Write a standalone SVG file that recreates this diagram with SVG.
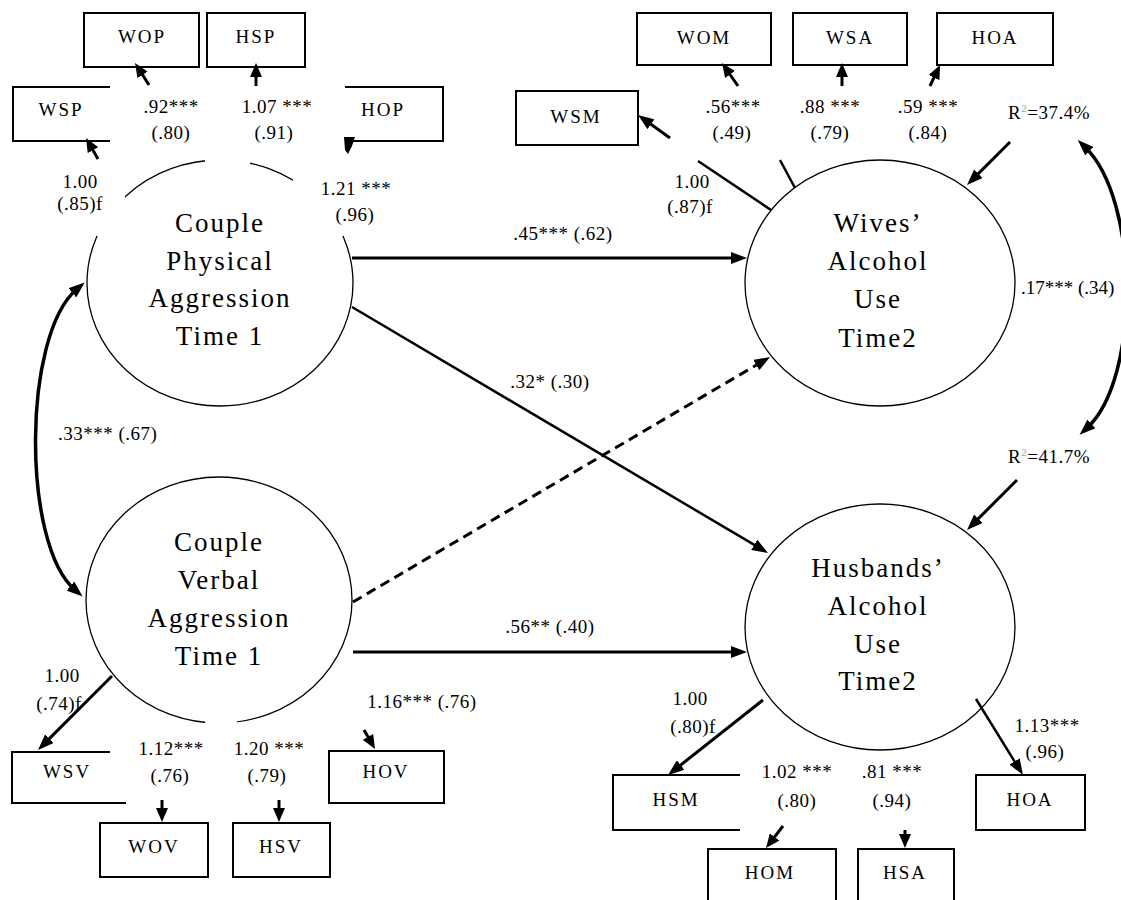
<svg xmlns="http://www.w3.org/2000/svg" width="1121" height="900" viewBox="0 0 1121 900" font-family="'Liberation Serif', serif">
  <defs>
    <style>
      .bg { fill: #ffffff; }
      .latent { fill: none; stroke: #000; stroke-width: 1.3; }
      .box { fill: none; stroke: #000; stroke-width: 2; }
      .ltxt { font-family: "Liberation Serif", serif; font-size: 27px; letter-spacing: 2px; text-anchor: middle; fill: #000; }
      .btxt { font-family: "Liberation Serif", serif; font-size: 19px; letter-spacing: 2px; text-anchor: middle; fill: #000; }
      .num { font-family: "Liberation Serif", serif; font-size: 19px; letter-spacing: 0.5px; text-anchor: middle; fill: #000; }
      .num-l { font-family: "Liberation Serif", serif; font-size: 19px; letter-spacing: 0.5px; text-anchor: start; fill: #000; }
      .tight { letter-spacing: 0; }
      .mask { fill: #ffffff; stroke: none; }
      .path3 { fill: none; stroke: #000; stroke-width: 3; marker-end: url(#ah); }
      .path25 { fill: none; stroke: #000; stroke-width: 2.5; marker-end: url(#ah); }
      .dash { fill: none; stroke: #000; stroke-width: 3; stroke-dasharray: 10 6; marker-end: url(#ah); }
      .small { fill: none; stroke: #000; stroke-width: 3; marker-end: url(#ahs); }
      .stub { fill: none; stroke: #000; stroke-width: 2.5; }
      .cov { fill: none; stroke: #000; stroke-width: 3.5; marker-start: url(#ah); marker-end: url(#ah); }
      .sup { font-size: 11px; fill: #9aa4b0; }
    </style>
    <!-- filled arrowhead; tip sits 10px beyond the line end -->
    <marker id="ah" viewBox="0 0 16 12" refX="6" refY="6" markerWidth="16" markerHeight="12" markerUnits="userSpaceOnUse" orient="auto-start-reverse">
      <path d="M0,0 L16,6 L0,12 z" fill="#000"/>
    </marker>
    <!-- smaller head for the short indicator arrows -->
    <marker id="ahs" viewBox="0 0 14 12" refX="6" refY="6" markerWidth="14" markerHeight="12" markerUnits="userSpaceOnUse" orient="auto">
      <path d="M0,0 L14,6 L0,12 z" fill="#000"/>
    </marker>
  </defs>

  <rect class="bg" x="0" y="0" width="1121" height="900"/>

  <!-- latent factors -->
  <g id="node-physical-t1">
    <ellipse class="latent" cx="220" cy="283" rx="133" ry="123"/>
    <text class="ltxt" x="220" y="232">Couple</text>
    <text class="ltxt" x="220" y="270">Physical</text>
    <text class="ltxt" x="220" y="307">Aggression</text>
    <text class="ltxt" x="220" y="345">Time 1</text>
  </g>
  <g id="node-verbal-t1">
    <ellipse class="latent" cx="219" cy="600" rx="133" ry="123"/>
    <text class="ltxt" x="219" y="551">Couple</text>
    <text class="ltxt" x="219" y="589">Verbal</text>
    <text class="ltxt" x="219" y="627">Aggression</text>
    <text class="ltxt" x="219" y="665">Time 1</text>
  </g>
  <g id="node-wives-t2">
    <ellipse class="latent" cx="880" cy="283" rx="135" ry="123"/>
    <text class="ltxt" x="878" y="232">Wives’</text>
    <text class="ltxt" x="878" y="270">Alcohol</text>
    <text class="ltxt" x="878" y="308">Use</text>
    <text class="ltxt" x="878" y="347">Time2</text>
  </g>
  <g id="node-husbands-t2">
    <ellipse class="latent" cx="880" cy="627" rx="135" ry="123"/>
    <text class="ltxt" x="878" y="577">Husbands’</text>
    <text class="ltxt" x="878" y="615">Alcohol</text>
    <text class="ltxt" x="878" y="653">Use</text>
    <text class="ltxt" x="878" y="690">Time2</text>
  </g>

  <!-- white label backgrounds that break the factor outlines -->
  <g id="label-backgrounds">
    <rect class="mask" x="205" y="150" width="45" height="20"/>
    <rect class="mask" x="40" y="170" width="85" height="66"/>
    <rect class="mask" x="293" y="170" width="105" height="66"/>
    <rect class="mask" x="205" y="712" width="32" height="16"/>
  </g>

  <g id="connectors">
    <!-- structural paths -->
    <path class="path3" d="M352,258 L737,258"/>
    <path class="path25" d="M352,307 L759.4,547.9"/>
    <path class="dash" d="M353,602 L761.4,362.1"/>
    <path class="path3" d="M353,652 L737,652"/>
    <!-- covariances -->
    <path class="cov" d="M77,289 C22,335 22,545 75,590"/>
    <path class="cov" d="M1085,147 C1140,200 1140,380 1087,428"/>
    <!-- residual arrows -->
    <path class="path3" d="M1010,142 L974.1,177.9"/>
    <path class="path3" d="M1017,480 L974.1,522.9"/>
    <!-- factor loadings: physical aggression -->
    <path class="small" d="M149,85 L139.3,69.8"/>
    <path class="small" d="M256,86 L256,71"/>
    <path class="small" d="M98,159 L90,144.9"/>
    <polygon points="344,137 355,137 352,146 348,154 345,150" fill="#000"/>
    <!-- factor loadings: wives' alcohol use -->
    <path class="path3" d="M670,138 L646.1,120.8"/>
    <path class="stub" d="M698,161 L771,210"/>
    <path class="stub" d="M780,160 L795,188"/>
    <path class="small" d="M738,86 L726.6,69.6"/>
    <path class="small" d="M842,86 L842,71"/>
    <path class="small" d="M930,86 L936.6,72.2"/>
    <!-- factor loadings: verbal aggression -->
    <path class="path3" d="M112,676 L45.1,742.9"/>
    <path class="small" d="M162,800 L162,814"/>
    <path class="small" d="M279,800 L279,814"/>
    <path class="small" d="M364,730 L371,742.1"/>
    <!-- factor loadings: husbands' alcohol use -->
    <path class="path3" d="M763,700 L675.9,768.8"/>
    <path class="path25" d="M976,699 L1017.7,766.5"/>
    <path class="small" d="M783,826 L770.9,841.7"/>
    <path class="small" d="M905,830 L905,840"/>
  </g>

  <!-- indicators -->
  <g id="node-wop"><rect class="box" x="84" y="13" width="115" height="54"/><text class="btxt" x="142" y="43">WOP</text></g>
  <g id="node-hsp"><rect class="box" x="207" y="13" width="98" height="54"/><text class="btxt" x="256" y="43">HSP</text></g>
  <g id="node-wsp"><path class="box" d="M110,87 H13 V141 H110"/><text class="btxt" x="61" y="116">WSP</text></g>
  <g id="node-hop"><path class="box" d="M345,87 H443 V141 H347"/><text class="btxt" x="383" y="116">HOP</text></g>

  <g id="node-wsm"><rect class="box" x="516" y="91" width="122" height="54"/><text class="btxt" x="576" y="123">WSM</text></g>
  <g id="node-wom"><rect class="box" x="637" y="13" width="134" height="52"/><text class="btxt" x="704" y="44">WOM</text></g>
  <g id="node-wsa"><rect class="box" x="793" y="13" width="114" height="52"/><text class="btxt" x="850" y="44">WSA</text></g>
  <g id="node-hoa-w"><rect class="box" x="937" y="13" width="116" height="52"/><text class="btxt" x="995" y="44">HOA</text></g>

  <g id="node-wsv"><path class="box" d="M110,752 H12 V803 H126"/><text class="btxt" x="67" y="778">WSV</text></g>
  <g id="node-wov"><rect class="box" x="100" y="823" width="108" height="54"/><text class="btxt" x="154" y="853">WOV</text></g>
  <g id="node-hsv"><rect class="box" x="233" y="823" width="97" height="54"/><text class="btxt" x="281" y="853">HSV</text></g>
  <g id="node-hov"><rect class="box" x="329" y="751" width="115" height="52"/><text class="btxt" x="386" y="778">HOV</text></g>

  <g id="node-hsm"><path class="box" d="M740,775 H613 V830 H740"/><text class="btxt" x="676" y="806">HSM</text></g>
  <g id="node-hom"><rect class="box" x="708" y="849" width="128" height="60"/><text class="btxt" x="770" y="879">HOM</text></g>
  <g id="node-hsa"><rect class="box" x="858" y="849" width="96" height="60"/><text class="btxt" x="905" y="879">HSA</text></g>
  <g id="node-hoa-h"><rect class="box" x="976" y="775" width="109" height="55"/><text class="btxt" x="1030" y="806">HOA</text></g>

  <!-- coefficients -->
  <g id="labels">
    <text class="num" x="171" y="113">.92***</text>
    <text class="num" x="171" y="139">(.80)</text>
    <text class="num" x="277" y="113">1.07 ***</text>
    <text class="num" x="274" y="139">(.91)</text>
    <text class="num" x="80" y="188">1.00</text>
    <text class="num" x="80" y="210">(.85)f</text>
    <text class="num" x="356" y="195">1.21 ***</text>
    <text class="num" x="355" y="221">(.96)</text>

    <text class="num" x="733" y="113">.56***</text>
    <text class="num" x="732" y="139">(.49)</text>
    <text class="num" x="830" y="113">.88 ***</text>
    <text class="num" x="830" y="139">(.79)</text>
    <text class="num" x="928" y="113">.59 ***</text>
    <text class="num" x="928" y="139">(.84)</text>
    <text class="num" x="692" y="188">1.00</text>
    <text class="num" x="690" y="213">(.87)f</text>
    <text class="num-l" x="1008" y="119">R<tspan class="sup" dy="-7">2</tspan><tspan dy="7">=37.4%</tspan></text>
    <text class="num-l" x="1008" y="463">R<tspan class="sup" dy="-7">2</tspan><tspan dy="7">=41.7%</tspan></text>
    <text class="num-l tight" x="1021" y="294">.17*** (.34)</text>

    <text class="num" x="563" y="240">.45*** (.62)</text>
    <text class="num" x="550" y="388">.32* (.30)</text>
    <text class="num" x="550" y="633">.56** (.40)</text>
    <text class="num-l" x="58" y="440">.33*** (.67)</text>

    <text class="num" x="62" y="682">1.00</text>
    <text class="num" x="59" y="710">(.74)f</text>
    <text class="num" x="171" y="755">1.12***</text>
    <text class="num" x="170" y="782">(.76)</text>
    <text class="num" x="269" y="755">1.20 ***</text>
    <text class="num" x="267" y="782">(.79)</text>
    <text class="num" x="422" y="708">1.16*** (.76)</text>

    <text class="num" x="690" y="705">1.00</text>
    <text class="num" x="693" y="733">(.80)f</text>
    <text class="num" x="797" y="778">1.02 ***</text>
    <text class="num" x="797" y="807">(.80)</text>
    <text class="num" x="892" y="778">.81 ***</text>
    <text class="num" x="892" y="807">(.94)</text>
    <text class="num" x="1047" y="732">1.13***</text>
    <text class="num" x="1045" y="758">(.96)</text>
  </g>
</svg>
